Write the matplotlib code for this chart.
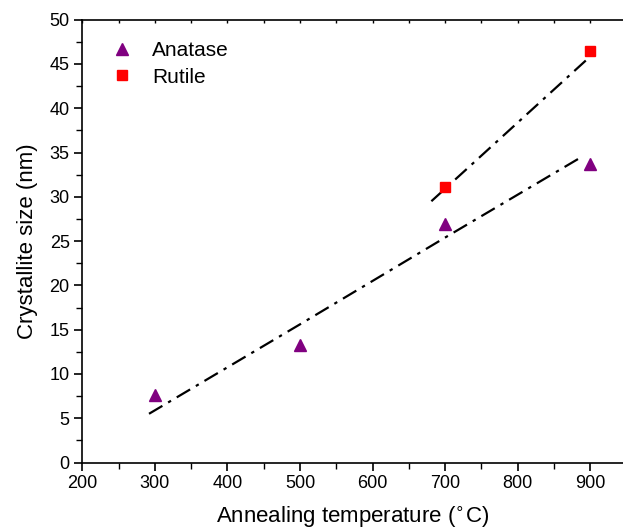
import numpy as np
import matplotlib
matplotlib.use("Agg")
import matplotlib.pyplot as plt
from matplotlib.ticker import MultipleLocator

plt.rcParams['font.family'] = ['Liberation Sans', 'DejaVu Sans']

# ---------------- data ----------------
anatase_T = [300, 500, 700, 900]
anatase_size = [7.6, 13.3, 26.9, 33.7]
rutile_T = [700, 900]
rutile_size = [31.1, 46.5]

# fitted trend lines
anatase_fit_T = [292, 500, 700, 890]
anatase_fit_y = [5.5, 15.6, 25.4, 34.6]
rutile_fit_T = [681, 906]
rutile_fit_y = [29.5, 46.3]

fig = plt.figure(figsize=(6.23, 5.31), dpi=100)
ax = fig.add_axes([0.132, 0.129, 0.868, 0.834])

ax.plot(anatase_fit_T, anatase_fit_y, color="black", lw=1.6,
        dashes=[7, 3, 1.5, 3])
ax.plot(rutile_fit_T, rutile_fit_y, color="black", lw=1.6,
        dashes=[7, 3, 1.5, 3])

ax.plot(anatase_T, anatase_size, ls="none", marker="^", ms=9,
        color="#800080", label="Anatase")
ax.plot(rutile_T, rutile_size, ls="none", marker="s", ms=6.5,
        color="#ff0000", label="Rutile")

ax.set_xlim(200, 945)
ax.set_ylim(0, 50)
ax.xaxis.set_major_locator(MultipleLocator(100))
ax.xaxis.set_minor_locator(MultipleLocator(50))
ax.yaxis.set_major_locator(MultipleLocator(5))
ax.yaxis.set_minor_locator(MultipleLocator(2.5))

ax.spines["right"].set_visible(False)
for s in ["left", "bottom", "top"]:
    ax.spines[s].set_linewidth(1.2)

ax.tick_params(which="major", direction="out", length=6, width=1.2,
               labelsize=13, top=False, right=False, pad=3)
ax.tick_params(which="minor", direction="out", length=4, width=1.0,
               top=False, right=False)

# short inward ticks along the top spine
sec = ax.secondary_xaxis("top")
sec.xaxis.set_major_locator(MultipleLocator(50))
sec.tick_params(direction="in", length=2.5, width=1.0, labeltop=False)
sec.spines["top"].set_visible(False)

ax.set_xlabel("Annealing temperature ($^{\\circ}$C)", fontsize=16, labelpad=9)
ax.set_ylabel("Crystallite size (nm)", fontsize=16, labelpad=8)

ax.legend(loc="upper left", frameon=False, fontsize=15,
          bbox_to_anchor=(0.01, 0.993), handletextpad=0.7,
          labelspacing=0.35, handlelength=1.5)

fig.savefig("out.png", dpi=100)
